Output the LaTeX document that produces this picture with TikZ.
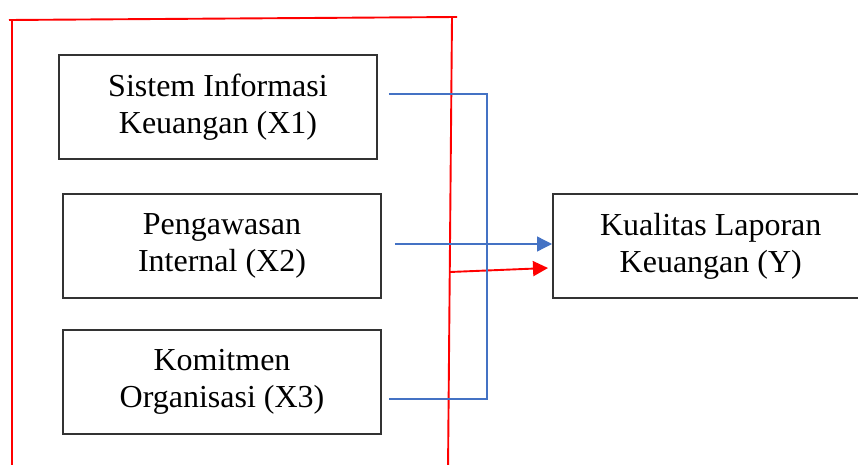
\documentclass[tikz,border=0pt]{standalone}
\usepackage{fontspec}
\setmainfont{Liberation Serif}
\usetikzlibrary{arrows.meta}
\definecolor{linkblue}{RGB}{68,114,196}
\begin{document}
\begin{tikzpicture}[x=1pt,y=-1pt,
  varbox/.style={draw=black!80,line width=1.5pt,minimum width=318pt,minimum height=104pt,
    align=center,inner sep=0pt,font=\fontsize{32}{37}\selectfont},
  bluelink/.style={draw=linkblue,line width=1.3pt},
  redlink/.style={draw=red,line width=1.9pt},
  headtip/.style={-{Triangle[length=15pt,width=15pt]}}]
\useasboundingbox (0,0) rectangle (858,465);
\clip (0,0) rectangle (858,465);
% independent variables
\node[varbox] (x1) at (218,107) {Sistem Informasi\\Keuangan (X1)};
\node[varbox] (x2) at (222,246) {Pengawasan\\Internal (X2)};
\node[varbox] (x3) at (222,382) {Komitmen\\Organisasi (X3)};
% dependent variable
\node[varbox,minimum width=316pt,anchor=west] (y) at (552,246) {Kualitas Laporan\\Keuangan (Y)};
% red frame around the independent variables (open at the bottom)
\coordinate (fbl) at (12,470);
\coordinate (ftl) at (12,20);
\coordinate (ftlx) at (9,20);
\coordinate (ftr) at (457,17);
\coordinate (frt) at (452,17);
\coordinate (frb) at (448,470);
\draw[redlink] (fbl) -- (ftl);
\draw[redlink] (ftlx) -- (ftr);
\draw[redlink] (frt) -- (frb);
% simultaneous effect arrow leaving the frame
\coordinate (rstart) at (450,272);
\draw[redlink,headtip] (rstart) -- ([xshift=-4pt,yshift=-22pt]y.west);
% partial effect connectors
\coordinate (bend1) at (487,94);
\coordinate (bend3) at (487,399);
\draw[bluelink] ([xshift=11pt,yshift=13pt]x1.east) -- (bend1) -- (bend3) -- ([xshift=7pt,yshift=-17pt]x3.east);
\draw[bluelink,headtip] ([xshift=13pt,yshift=2pt]x2.east) -- ([yshift=2pt]y.west);
\end{tikzpicture}
\end{document}
